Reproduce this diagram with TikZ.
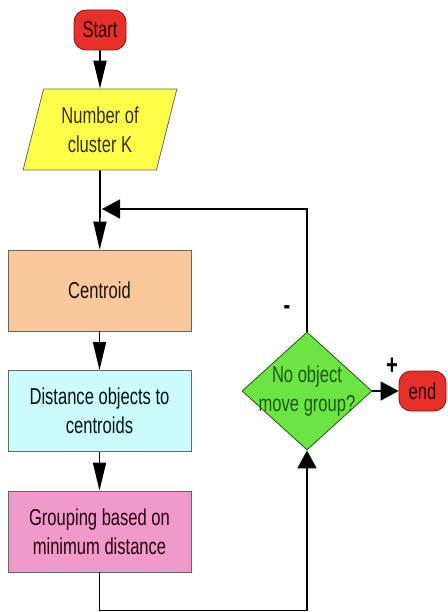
\documentclass[tikz,border=0pt]{standalone}
\usepackage{fontspec}
\setmainfont{Liberation Sans}[FakeStretch=0.72]
\usetikzlibrary{arrows.meta,shapes.geometric}

\definecolor{startred}{HTML}{E8302A}
\definecolor{darkred}{HTML}{8A1010}
\definecolor{numyellow}{HTML}{FFFF4A}
\definecolor{centpeach}{HTML}{F8C99B}
\definecolor{distcyan}{HTML}{CCFBFB}
\definecolor{grppink}{HTML}{F09ACC}
\definecolor{decgreen}{HTML}{6CE444}
\definecolor{decdark}{HTML}{1F5A12}

\tikzset{
  txt/.style={align=center, font=\fontsize{23}{29}\selectfont},
  box/.style={txt, draw=black!60, line width=0.8pt, minimum width=183pt, minimum height=81pt, inner sep=0pt},
  term/.style={txt, draw=darkred, fill=startred, line width=0.8pt, rounded corners=12pt, minimum height=40pt, inner sep=0pt, text=black!85!red},
  flow/.style={line width=1.6pt, -{Triangle[length=28pt,width=13pt]}},
  back/.style={line width=1.6pt, -{Triangle[length=18pt,width=19pt]}},
  sign/.style={font=\fontsize{28}{28}\selectfont\bfseries},
}

\begin{document}
\begin{tikzpicture}[x=1pt, y=-1pt]
            \useasboundingbox (0,0) rectangle (447,612);

            \node[term, minimum width=52pt] (start) at (100,30) {Start};
            \node[txt, trapezium, trapezium left angle=73, trapezium right angle=107,
                  trapezium stretches=true, minimum width=154pt, minimum height=81pt, inner sep=0pt,
                  draw=black!60, line width=0.8pt, fill=numyellow, text=black!85!olive] (num) at (100,129.5) {Number of\\cluster K};
            \coordinate (junc) at (100,209);

            \node[box, fill=centpeach, text=black!85!brown] (cent) at (99.5,290.5) {Centroid};
            \node[box, fill=distcyan, text=black!85!teal] (dist) at (99.5,411) {Distance objects to\\centroids};
            \node[box, fill=grppink, text=black!80!purple] (grp) at (99.5,531.5) {Grouping based on\\minimum distance};

            \node[diamond, draw=decdark, fill=decgreen, line width=0.8pt, minimum width=130pt, minimum height=118pt, inner sep=0pt] (dec) at (307,391) {};
            \node[txt, text=decdark] (dectxt) at (dec.center) {No object\\move group?};
            \node[term, minimum width=47pt] (endn) at (422.5,391) {end};

            \draw[flow] (start) -- (num);
            \draw[line width=1.6pt] (num) -- (junc);
            \draw[flow] (junc) -- (cent);
            \draw[flow] (cent) -- (dist);
            \draw[flow] (dist) -- (grp);
            \draw[back] (grp.south) -- ++(0,38) -| (dec.south);
            \draw[back] (dec.north) |- ([xshift=2pt]junc);
            \draw[back] (dec.east) -- (endn.west);

            \node[sign] (minus) at (287,310) {-};
            \node[sign] (plus) at (392,366) {+};
        \end{tikzpicture}
\end{document}
